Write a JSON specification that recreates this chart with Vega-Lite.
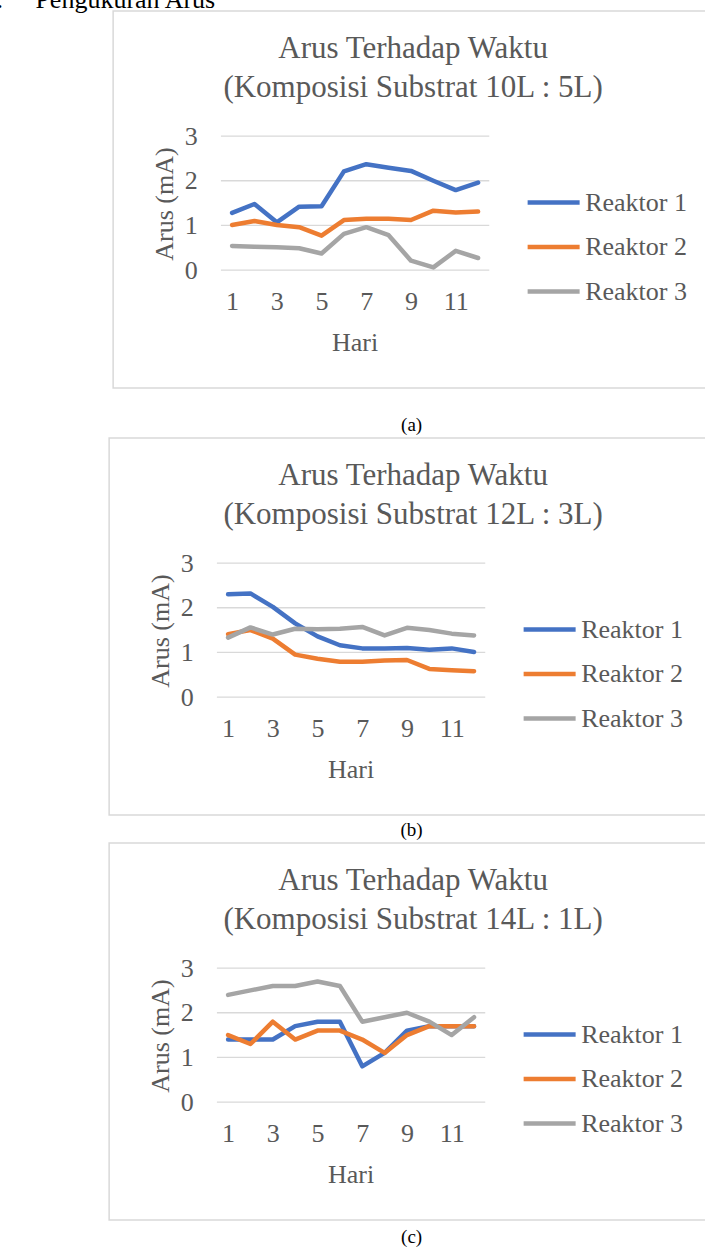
{
  "$schema": "https://vega.github.io/schema/vega-lite/v6.json",
  "padding": {"left": -17, "top": -13, "right": -12, "bottom": 0},
  "autosize": {"type": "pad"},
  "title": {"text": "2.\u00a0\u00a0\u00a0\u00a0\u00a0Pengukuran Arus", "anchor": "start", "dx": -125, "fontSize": 26, "color": "#000000", "offset": -3, "lineHeight": 26},
  "center": true,
  "spacing": 2,
  "resolve": {"scale": {"color": "independent"}},
  "datasets": {
    "grid": [{"g": 0}, {"g": 1}, {"g": 2}, {"g": 3}],
    "a": [
      {"d": 1, "r": "Reaktor 1", "v": 1.28}, {"d": 2, "r": "Reaktor 1", "v": 1.48}, {"d": 3, "r": "Reaktor 1", "v": 1.07}, {"d": 4, "r": "Reaktor 1", "v": 1.42}, {"d": 5, "r": "Reaktor 1", "v": 1.43}, {"d": 6, "r": "Reaktor 1", "v": 2.21}, {"d": 7, "r": "Reaktor 1", "v": 2.37}, {"d": 8, "r": "Reaktor 1", "v": 2.29}, {"d": 9, "r": "Reaktor 1", "v": 2.22}, {"d": 10, "r": "Reaktor 1", "v": 2.0}, {"d": 11, "r": "Reaktor 1", "v": 1.79}, {"d": 12, "r": "Reaktor 1", "v": 1.96},
      {"d": 1, "r": "Reaktor 2", "v": 1.01}, {"d": 2, "r": "Reaktor 2", "v": 1.1}, {"d": 3, "r": "Reaktor 2", "v": 1.01}, {"d": 4, "r": "Reaktor 2", "v": 0.96}, {"d": 5, "r": "Reaktor 2", "v": 0.77}, {"d": 6, "r": "Reaktor 2", "v": 1.12}, {"d": 7, "r": "Reaktor 2", "v": 1.15}, {"d": 8, "r": "Reaktor 2", "v": 1.15}, {"d": 9, "r": "Reaktor 2", "v": 1.12}, {"d": 10, "r": "Reaktor 2", "v": 1.33}, {"d": 11, "r": "Reaktor 2", "v": 1.29}, {"d": 12, "r": "Reaktor 2", "v": 1.31},
      {"d": 1, "r": "Reaktor 3", "v": 0.54}, {"d": 2, "r": "Reaktor 3", "v": 0.52}, {"d": 3, "r": "Reaktor 3", "v": 0.51}, {"d": 4, "r": "Reaktor 3", "v": 0.49}, {"d": 5, "r": "Reaktor 3", "v": 0.37}, {"d": 6, "r": "Reaktor 3", "v": 0.81}, {"d": 7, "r": "Reaktor 3", "v": 0.96}, {"d": 8, "r": "Reaktor 3", "v": 0.78}, {"d": 9, "r": "Reaktor 3", "v": 0.21}, {"d": 10, "r": "Reaktor 3", "v": 0.06}, {"d": 11, "r": "Reaktor 3", "v": 0.43}, {"d": 12, "r": "Reaktor 3", "v": 0.27}
    ],
    "b": [
      {"d": 1, "r": "Reaktor 1", "v": 2.3}, {"d": 2, "r": "Reaktor 1", "v": 2.32}, {"d": 3, "r": "Reaktor 1", "v": 2.02}, {"d": 4, "r": "Reaktor 1", "v": 1.65}, {"d": 5, "r": "Reaktor 1", "v": 1.36}, {"d": 6, "r": "Reaktor 1", "v": 1.16}, {"d": 7, "r": "Reaktor 1", "v": 1.09}, {"d": 8, "r": "Reaktor 1", "v": 1.09}, {"d": 9, "r": "Reaktor 1", "v": 1.1}, {"d": 10, "r": "Reaktor 1", "v": 1.06}, {"d": 11, "r": "Reaktor 1", "v": 1.09}, {"d": 12, "r": "Reaktor 1", "v": 1.01},
      {"d": 1, "r": "Reaktor 2", "v": 1.41}, {"d": 2, "r": "Reaktor 2", "v": 1.5}, {"d": 3, "r": "Reaktor 2", "v": 1.31}, {"d": 4, "r": "Reaktor 2", "v": 0.95}, {"d": 5, "r": "Reaktor 2", "v": 0.86}, {"d": 6, "r": "Reaktor 2", "v": 0.79}, {"d": 7, "r": "Reaktor 2", "v": 0.79}, {"d": 8, "r": "Reaktor 2", "v": 0.82}, {"d": 9, "r": "Reaktor 2", "v": 0.83}, {"d": 10, "r": "Reaktor 2", "v": 0.63}, {"d": 11, "r": "Reaktor 2", "v": 0.6}, {"d": 12, "r": "Reaktor 2", "v": 0.58},
      {"d": 1, "r": "Reaktor 3", "v": 1.33}, {"d": 2, "r": "Reaktor 3", "v": 1.56}, {"d": 3, "r": "Reaktor 3", "v": 1.4}, {"d": 4, "r": "Reaktor 3", "v": 1.53}, {"d": 5, "r": "Reaktor 3", "v": 1.52}, {"d": 6, "r": "Reaktor 3", "v": 1.53}, {"d": 7, "r": "Reaktor 3", "v": 1.57}, {"d": 8, "r": "Reaktor 3", "v": 1.38}, {"d": 9, "r": "Reaktor 3", "v": 1.55}, {"d": 10, "r": "Reaktor 3", "v": 1.5}, {"d": 11, "r": "Reaktor 3", "v": 1.42}, {"d": 12, "r": "Reaktor 3", "v": 1.38}
    ],
    "c": [
      {"d": 1, "r": "Reaktor 1", "v": 1.4}, {"d": 2, "r": "Reaktor 1", "v": 1.4}, {"d": 3, "r": "Reaktor 1", "v": 1.4}, {"d": 4, "r": "Reaktor 1", "v": 1.7}, {"d": 5, "r": "Reaktor 1", "v": 1.8}, {"d": 6, "r": "Reaktor 1", "v": 1.8}, {"d": 7, "r": "Reaktor 1", "v": 0.8}, {"d": 8, "r": "Reaktor 1", "v": 1.1}, {"d": 9, "r": "Reaktor 1", "v": 1.6}, {"d": 10, "r": "Reaktor 1", "v": 1.7}, {"d": 11, "r": "Reaktor 1", "v": 1.7}, {"d": 12, "r": "Reaktor 1", "v": 1.7},
      {"d": 1, "r": "Reaktor 2", "v": 1.5}, {"d": 2, "r": "Reaktor 2", "v": 1.3}, {"d": 3, "r": "Reaktor 2", "v": 1.8}, {"d": 4, "r": "Reaktor 2", "v": 1.4}, {"d": 5, "r": "Reaktor 2", "v": 1.6}, {"d": 6, "r": "Reaktor 2", "v": 1.6}, {"d": 7, "r": "Reaktor 2", "v": 1.4}, {"d": 8, "r": "Reaktor 2", "v": 1.1}, {"d": 9, "r": "Reaktor 2", "v": 1.5}, {"d": 10, "r": "Reaktor 2", "v": 1.7}, {"d": 11, "r": "Reaktor 2", "v": 1.7}, {"d": 12, "r": "Reaktor 2", "v": 1.7},
      {"d": 1, "r": "Reaktor 3", "v": 2.4}, {"d": 2, "r": "Reaktor 3", "v": 2.5}, {"d": 3, "r": "Reaktor 3", "v": 2.6}, {"d": 4, "r": "Reaktor 3", "v": 2.6}, {"d": 5, "r": "Reaktor 3", "v": 2.7}, {"d": 6, "r": "Reaktor 3", "v": 2.6}, {"d": 7, "r": "Reaktor 3", "v": 1.8}, {"d": 8, "r": "Reaktor 3", "v": 1.9}, {"d": 9, "r": "Reaktor 3", "v": 2.0}, {"d": 10, "r": "Reaktor 3", "v": 1.8}, {"d": 11, "r": "Reaktor 3", "v": 1.5}, {"d": 12, "r": "Reaktor 3", "v": 1.9}
    ]
  },
  "vconcat": [
    {
      "width": 600, "height": 377,
      "title": {"text": ["Arus Terhadap Waktu", "(Komposisi Substrat 10L : 5L)"], "offset": -93},
      "layer": [
        {
          "data": {"name": "grid"},
          "mark": {"type": "rule", "color": "#D9D9D9", "strokeWidth": 1.3},
          "encoding": {
            "y": {"field": "g", "type": "quantitative", "scale": {"domain": [-2.64, 5.8], "nice": false, "zero": false},
                  "axis": {"orient": "left", "offset": -100, "values": [0, 1, 2, 3], "labelPadding": 16, "title": "Arus (mA)", "titleX": -49, "titleY": 192.5, "titleBaseline": "middle", "zindex": 2}},
            "x": {"datum": 0.5, "type": "quantitative", "scale": {"domain": [-4.32, 22.51], "nice": false, "zero": false},
                  "axis": {"orient": "bottom", "labels": false, "title": "(a)", "titleX": 298, "titleY": 36, "titleBaseline": "middle", "titleColor": "#000000", "titleFontSize": 19}},
            "x2": {"datum": 12.5}
          }
        },
        {
          "data": {"name": "a"},
          "mark": {"type": "line", "strokeWidth": 4.5, "strokeCap": "round", "strokeJoin": "round"},
          "encoding": {
            "x": {"field": "d", "type": "quantitative", "scale": {"domain": [-4.32, 22.51], "nice": false, "zero": false},
                  "axis": {"orient": "bottom", "offset": -118, "values": [1, 3, 5, 7, 9, 11], "format": "d", "labelFlush": false, "labelPadding": 18, "title": "Hari", "titleX": 241.5, "titleY": 72, "titleBaseline": "middle"}},
            "y": {"field": "v", "type": "quantitative", "scale": {"domain": [-2.64, 5.8], "nice": false, "zero": false},
                  "axis": {"orient": "left", "offset": -100, "values": [0, 1, 2, 3], "labelPadding": 16, "title": "Arus (mA)", "titleX": -49, "titleY": 192.5, "titleBaseline": "middle", "zindex": 2}},
            "color": {"field": "r", "type": "nominal", "scale": {"domain": ["Reaktor 1", "Reaktor 2", "Reaktor 3"], "range": ["#4472C4", "#ED7D31", "#A5A5A5"]}, "legend": {"title": null}}
          }
        }
      ],
      "resolve": {"axis": {"x": "independent"}}
    },
    {
      "width": 608, "height": 377,
      "title": {"text": ["Arus Terhadap Waktu", "(Komposisi Substrat 12L : 3L)"], "offset": -93},
      "layer": [
        {
          "data": {"name": "grid"},
          "mark": {"type": "rule", "color": "#D9D9D9", "strokeWidth": 1.3},
          "encoding": {
            "y": {"field": "g", "type": "quantitative", "scale": {"domain": [-2.64, 5.8], "nice": false, "zero": false},
                  "axis": {"orient": "left", "offset": -100, "values": [0, 1, 2, 3], "labelPadding": 16, "title": "Arus (mA)", "titleX": -49, "titleY": 192.5, "titleBaseline": "middle", "zindex": 2}},
            "x": {"datum": 0.5, "type": "quantitative", "scale": {"domain": [-4.32, 22.87], "nice": false, "zero": false},
                  "axis": {"orient": "bottom", "labels": false, "title": "(b)", "titleX": 302, "titleY": 14, "titleBaseline": "middle", "titleColor": "#000000", "titleFontSize": 19}},
            "x2": {"datum": 12.5}
          }
        },
        {
          "data": {"name": "b"},
          "mark": {"type": "line", "strokeWidth": 4.5, "strokeCap": "round", "strokeJoin": "round"},
          "encoding": {
            "x": {"field": "d", "type": "quantitative", "scale": {"domain": [-4.32, 22.87], "nice": false, "zero": false},
                  "axis": {"orient": "bottom", "offset": -118, "values": [1, 3, 5, 7, 9, 11], "format": "d", "labelFlush": false, "labelPadding": 18, "title": "Hari", "titleX": 241.5, "titleY": 72, "titleBaseline": "middle"}},
            "y": {"field": "v", "type": "quantitative", "scale": {"domain": [-2.64, 5.8], "nice": false, "zero": false},
                  "axis": {"orient": "left", "offset": -100, "values": [0, 1, 2, 3], "labelPadding": 16, "title": "Arus (mA)", "titleX": -49, "titleY": 192.5, "titleBaseline": "middle", "zindex": 2}},
            "color": {"field": "r", "type": "nominal", "scale": {"domain": ["Reaktor 1", "Reaktor 2", "Reaktor 3"], "range": ["#4472C4", "#ED7D31", "#A5A5A5"]}, "legend": {"title": null}}
          }
        }
      ],
      "resolve": {"axis": {"x": "independent"}}
    },
    {
      "width": 608, "height": 377,
      "title": {"text": ["Arus Terhadap Waktu", "(Komposisi Substrat 14L : 1L)"], "offset": -93},
      "layer": [
        {
          "data": {"name": "grid"},
          "mark": {"type": "rule", "color": "#D9D9D9", "strokeWidth": 1.3},
          "encoding": {
            "y": {"field": "g", "type": "quantitative", "scale": {"domain": [-2.64, 5.8], "nice": false, "zero": false},
                  "axis": {"orient": "left", "offset": -100, "values": [0, 1, 2, 3], "labelPadding": 16, "title": "Arus (mA)", "titleX": -49, "titleY": 192.5, "titleBaseline": "middle", "zindex": 2}},
            "x": {"datum": 0.5, "type": "quantitative", "scale": {"domain": [-4.32, 22.87], "nice": false, "zero": false},
                  "axis": {"orient": "bottom", "labels": false, "title": "(c)", "titleX": 302, "titleY": 16, "titleBaseline": "middle", "titleColor": "#000000", "titleFontSize": 19}},
            "x2": {"datum": 12.5}
          }
        },
        {
          "data": {"name": "c"},
          "mark": {"type": "line", "strokeWidth": 4.5, "strokeCap": "round", "strokeJoin": "round"},
          "encoding": {
            "x": {"field": "d", "type": "quantitative", "scale": {"domain": [-4.32, 22.87], "nice": false, "zero": false},
                  "axis": {"orient": "bottom", "offset": -118, "values": [1, 3, 5, 7, 9, 11], "format": "d", "labelFlush": false, "labelPadding": 18, "title": "Hari", "titleX": 241.5, "titleY": 72, "titleBaseline": "middle"}},
            "y": {"field": "v", "type": "quantitative", "scale": {"domain": [-2.64, 5.8], "nice": false, "zero": false},
                  "axis": {"orient": "left", "offset": -100, "values": [0, 1, 2, 3], "labelPadding": 16, "title": "Arus (mA)", "titleX": -49, "titleY": 192.5, "titleBaseline": "middle", "zindex": 2}},
            "color": {"field": "r", "type": "nominal", "scale": {"domain": ["Reaktor 1", "Reaktor 2", "Reaktor 3"], "range": ["#4472C4", "#ED7D31", "#A5A5A5"]}, "legend": {"title": null}}
          }
        }
      ],
      "resolve": {"axis": {"x": "independent"}}
    }
  ],
  "config": {
    "font": "Liberation Serif",
    "background": "white",
    "view": {"stroke": "#D9D9D9", "strokeWidth": 1.5, "fill": "white"},
    "axis": {"labelFont": "Liberation Serif", "labelFontSize": 26, "labelColor": "#595959", "titleFont": "Liberation Serif", "titleFontSize": 26, "titleColor": "#595959", "titleFontWeight": "normal", "grid": false, "ticks": false, "domain": false, "labelOverlap": false},
    "title": {"font": "Liberation Serif", "fontSize": 31, "color": "#595959", "fontWeight": "normal", "lineHeight": 39, "anchor": "middle"},
    "legend": {"orient": "none", "legendX": 412, "legendY": 163, "symbolType": "stroke", "symbolSize": 2704, "symbolStrokeWidth": 4.5, "labelFont": "Liberation Serif", "labelFontSize": 26, "labelColor": "#595959", "labelOffset": 3, "rowPadding": 2.5, "padding": 0, "labelLimit": 300}
  }
}
